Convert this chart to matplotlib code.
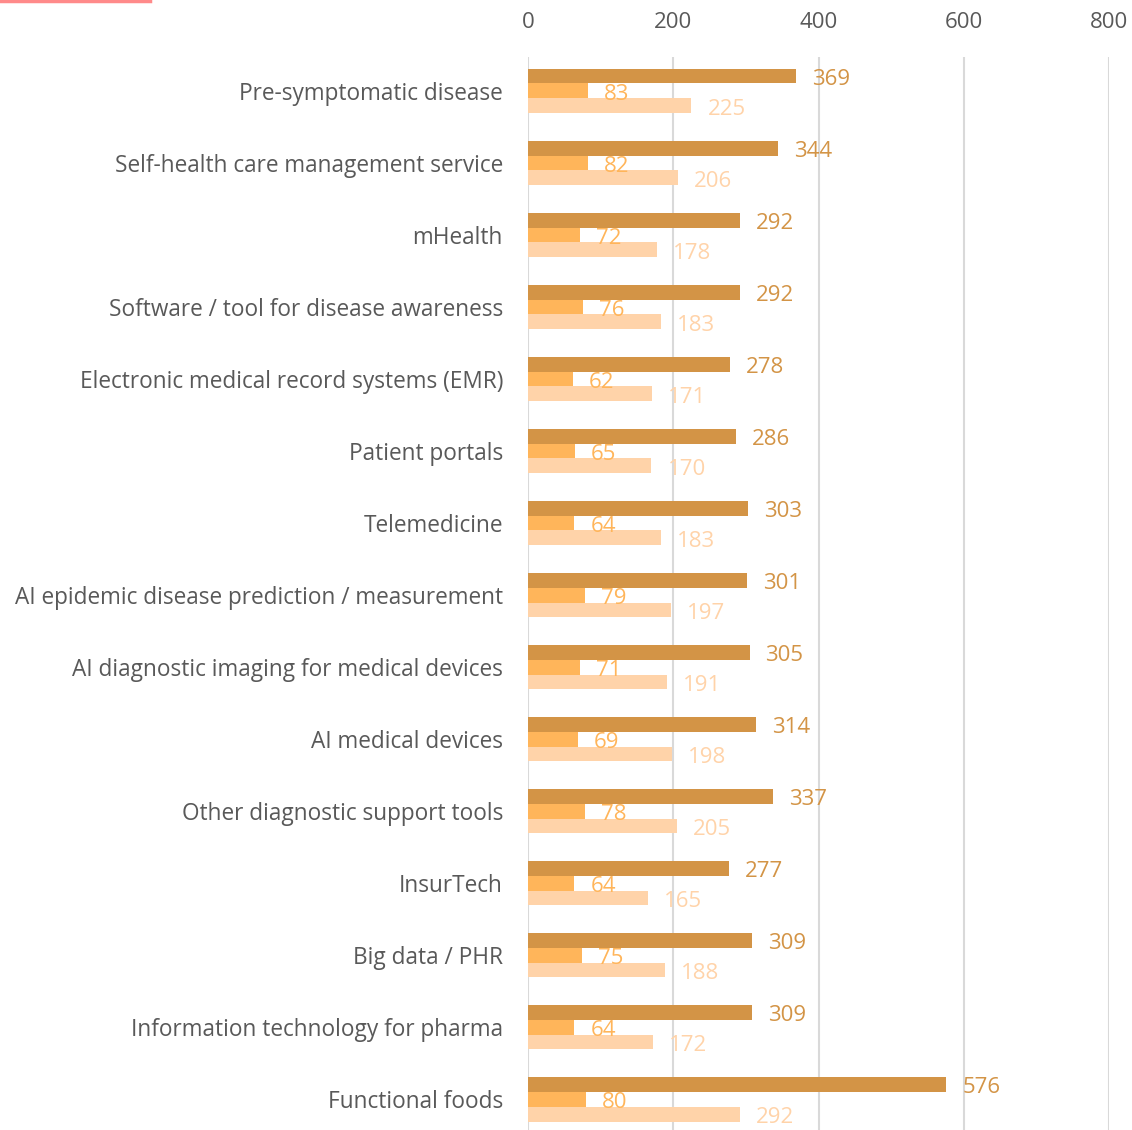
import matplotlib
matplotlib.use("Agg")
import matplotlib.pyplot as plt
import numpy as np

plt.rcParams.update({
    "font.family": ["Open Sans", "DejaVu Sans"],
})

categories = [
    "Pre-symptomatic disease",
    "Self-health care management service",
    "mHealth",
    "Software / tool for disease awareness",
    "Electronic medical record systems (EMR)",
    "Patient portals",
    "Telemedicine",
    "AI epidemic disease prediction / measurement",
    "AI diagnostic imaging for medical devices",
    "AI medical devices",
    "Other diagnostic support tools",
    "InsurTech",
    "Big data / PHR",
    "Information technology for pharma",
    "Functional foods",
]
series_a = [369, 344, 292, 292, 278, 286, 303, 301, 305, 314, 337, 277, 309, 309, 576]
series_b = [83, 82, 72, 76, 62, 65, 64, 79, 71, 69, 78, 64, 75, 64, 80]
series_c = [225, 206, 178, 183, 171, 170, 183, 197, 191, 198, 205, 165, 188, 172, 292]
xticks = [0, 200, 400, 600, 800]

COLORS = ["#D39446", "#FFB55A", "#FFD3A9"]
TEXT = "#595959"

fig = plt.figure(figsize=(11.32, 11.30), dpi=100)
ax = fig.add_axes([528 / 1132, 0, (1109 - 528) / 1132, 1 - 57 / 1130])

y = np.arange(len(categories))
h = 0.208
for k, (vals, col) in enumerate(zip([series_a, series_b, series_c], COLORS)):
    off = (k - 1) * h
    ax.barh(y + off, vals, height=h, color=col, edgecolor="none", zorder=3)
    for yi, v in zip(y, vals):
        ax.text(v + 22, yi + off + 0.045, str(v), color=col, fontsize=16,
                ha="left", va="center", zorder=4)

ax.set_xlim(0, 800)
ax.set_ylim(14.43, -0.472)
ax.set_yticks(y)
ax.set_yticklabels(categories, fontsize=16.3, color=TEXT)
ax.set_xticks(xticks)
ax.set_xticklabels([str(t) for t in xticks], fontsize=16, color=TEXT)
ax.xaxis.tick_top()
ax.tick_params(axis="x", length=0, pad=17)
ax.tick_params(axis="y", length=0, pad=18)
ax.grid(axis="x", color="#D9D9D9", lw=1.5, zorder=0)
for s in ax.spines.values():
    s.set_visible(False)

# thin red accent at top-left
fig.add_artist(plt.Line2D([0, 150 / 1132], [0.9993, 0.9993], color="#FF8A8A", lw=2.5,
                          transform=fig.transFigure))

fig.savefig("out.png", dpi=100)
